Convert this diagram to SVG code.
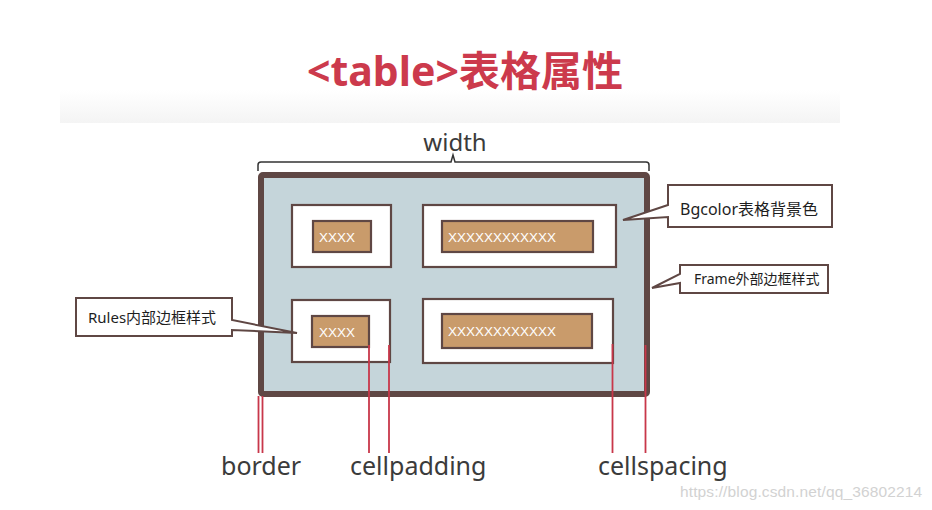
<svg xmlns="http://www.w3.org/2000/svg" width="932" height="510" viewBox="0 0 932 510">
<defs>
<linearGradient id="band" x1="0" y1="0" x2="0" y2="1">
<stop offset="0" stop-color="#ffffff"/>
<stop offset="1" stop-color="#f4f4f4"/>
</linearGradient>
<style>
.t{font-family:"Noto Sans","Noto Sans CJK SC",sans-serif;fill:#3b3b3b}
.cjk{font-family:"Noto Sans","Noto Sans CJK SC",sans-serif;fill:#1e1e1e}
.cell{fill:#fff;stroke:#5f4744;stroke-width:2.2}
.inner{fill:#c99b6b;stroke:#5f4744;stroke-width:2.2}
.x{font-family:"Liberation Sans",Arial,sans-serif;font-size:13.5px;fill:#fff}
.call{fill:#fff;stroke:#5f4744;stroke-width:2;stroke-linejoin:miter}
.red{stroke:#c8374a;stroke-width:1.8;fill:none}
</style>
</defs>
<rect width="932" height="510" fill="#fff"/>
<rect x="60" y="90" width="780" height="33" fill="url(#band)"/>
<text x="465" y="86" text-anchor="middle" style="font-family:'Noto Sans','Noto Sans CJK SC',sans-serif;font-weight:bold;font-size:41px;fill:#cc3a4c">&lt;table&gt;表格属性</text>

<g id="width-label">
<text class="t" x="455" y="151" text-anchor="middle" font-size="24">width</text>
<path d="M258,171 V165 Q258,162 261,162 H451 L453,155 L455,162 H646 Q649,162 649,165 V171" fill="none" stroke="#333" stroke-width="1.5"/>
</g>

<g id="table">
<rect x="261" y="175" width="386" height="219" rx="2" fill="#c5d5da" stroke="#5f4744" stroke-width="6"/>
</g>

<g id="cell1">
<rect class="cell" x="292" y="205" width="99" height="62"/>
<rect class="inner" x="313" y="221" width="58" height="31"/>
<text class="x" x="319" y="242">XXXX</text>
</g>
<g id="cell2">
<rect class="cell" x="423" y="205" width="193" height="62"/>
<rect class="inner" x="442" y="221" width="151" height="31"/>
<text class="x" x="448" y="242">XXXXXXXXXXXX</text>
</g>
<g id="cell3">
<rect class="cell" x="292" y="300" width="98" height="62"/>
<rect class="inner" x="312" y="316" width="57" height="31"/>
<text class="x" x="319" y="337">XXXX</text>
</g>
<g id="cell4">
<rect class="cell" x="423" y="299" width="190" height="64"/>
<rect class="inner" x="442" y="314" width="150" height="34"/>
<text class="x" x="448" y="336">XXXXXXXXXXXX</text>
</g>

<g id="bgcolor-callout">
<path class="call" d="M668,185 H832 V227 H668 V217 L623,220 L668,205 Z"/>
<text class="cjk" x="680" y="215" font-size="16">Bgcolor表格背景色</text>
</g>
<g id="frame-callout">
<path class="call" d="M680,265 H828 V293 H680 V283 L652,288 L680,274 Z"/>
<text class="cjk" x="694" y="284" font-size="14">Frame外部边框样式</text>
</g>
<g id="rules-callout">
<path class="call" d="M76,298 H232 V320 L297,333 L232,330 V336 H76 Z"/>
<text class="cjk" x="88" y="323" font-size="15">Rules内部边框样式</text>
</g>

<g id="connectors">
<line class="red" x1="258.5" y1="396" x2="258.5" y2="453"/>
<line class="red" x1="262.5" y1="396" x2="262.5" y2="453"/>
<line class="red" x1="369" y1="345" x2="369" y2="453"/>
<line class="red" x1="389" y1="345" x2="389" y2="453"/>
<line class="red" x1="612.5" y1="344" x2="612.5" y2="453"/>
<line class="red" x1="645.5" y1="345" x2="645.5" y2="453"/>
</g>

<g id="labels">
<text class="t" x="221" y="475" font-size="25">border</text>
<text class="t" x="350" y="475" font-size="25">cellpadding</text>
<text class="t" x="598" y="475" font-size="25">cellspacing</text>
</g>
<text x="680" y="497" textLength="242" style="font-family:'Liberation Sans',Arial,sans-serif;font-size:15.5px;fill:#d2d2d2">https://blog.csdn.net/qq_36802214</text>
</svg>
